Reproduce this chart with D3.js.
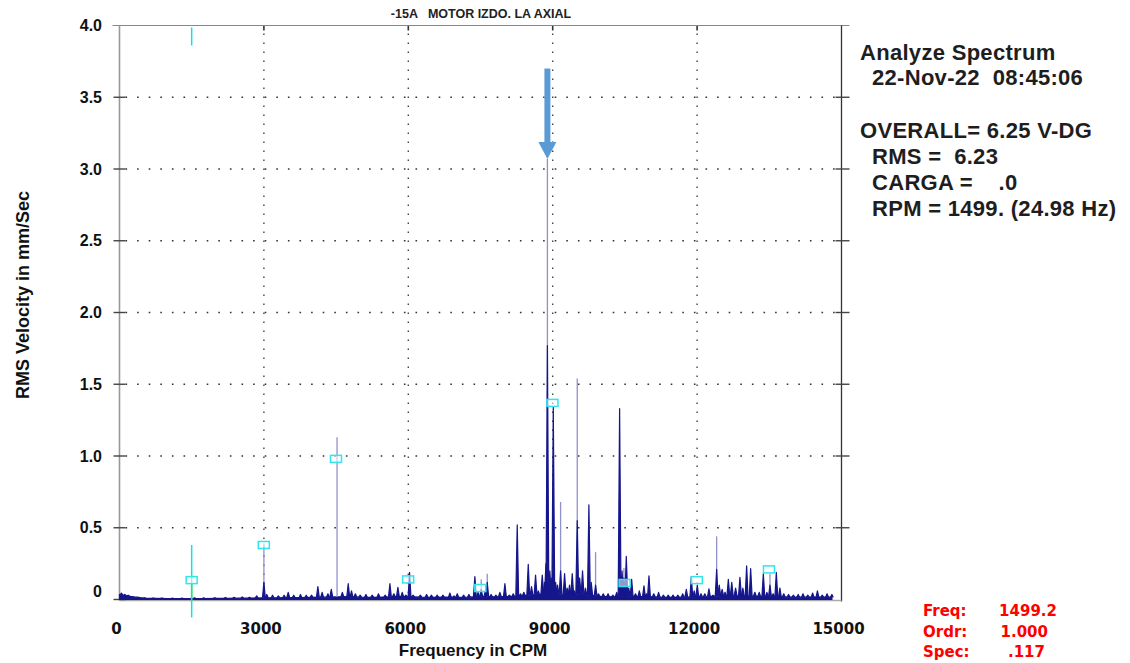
<!DOCTYPE html>
<html lang="en">
<head>
<meta charset="utf-8">
<title>Analyze Spectrum</title>
<script src="https://d3js.org/d3.v7.min.js"></script>
<style>
  body { margin: 0; background: #fff; }
  svg { display: block; font-family: "Liberation Sans", Arial, sans-serif; }
  text { white-space: pre; }
  .lbl { font-weight: bold; font-size: 16px; fill: #111; }
  .xlbl { font-family: "DejaVu Sans", sans-serif; font-weight: bold; font-size: 15px; fill: #111; }
  .title { font-weight: bold; font-size: 12.5px; fill: #222; }
  .info { font-size: 22px; font-weight: bold; fill: #1e1e1e; letter-spacing: 0.3px; }
  .cur { font-family: "DejaVu Sans", sans-serif; font-weight: bold; font-size: 15px; fill: #f00; }
</style>
</head>
<body>
<script>
// ---- data ----
var yTicks = [0, 0.5, 1.0, 1.5, 2.0, 2.5, 3.0, 3.5, 4.0];
var xTicks = [0, 3000, 6000, 9000, 12000, 15000];

// noise floor [CPM, mm/s]
var floorData = [
  [0,.035],[250,.02],[500,.01],[750,.008],[1000,.007],[1250,.007],[1500,.007],[1750,.007],
  [2000,.008],[2250,.008],[2500,.009],[2750,.01],[3000,.012],[3250,.012],[3500,.014],[3750,.013],
  [4000,.015],[4250,.016],[4500,.018],[4750,.02],[5000,.016],[5250,.015],[5500,.017],[5750,.02],
  [6000,.02],[6250,.016],[6500,.015],[6750,.016],[7000,.015],[7250,.016],[7500,.02],[7750,.018],
  [8000,.02],[8250,.022],[8500,.03],[8750,.035],[9000,.04],[9250,.035],[9500,.035],[9750,.03],
  [10000,.022],[10250,.018],[10500,.025],[10750,.02],[11000,.02],[11250,.016],[11500,.015],[11750,.016],
  [12000,.018],[12250,.02],[12500,.025],[12750,.025],[13000,.025],[13250,.022],[13500,.02],[13750,.018],
  [14000,.016],[14250,.016],[14500,.017],[14800,.016]
];

// spectral lines (dark part) [CPM, mm/s]
var peaks = [
  [40,.045],[110,.035],[180,.03],[260,.02],[380,.015],[520,.012],[700,.01],[880,.01],[1100,.01],
  [1300,.01],[1560,.012],[1750,.012],[1980,.012],[2200,.013],[2380,.015],[2550,.018],[2700,.015],
  [2850,.025],[3000,.12],[3060,.035],[3180,.03],[3300,.025],[3420,.03],[3505,.05],[3620,.03],
  [3760,.035],[3880,.03],[3990,.03],[4121,.09],[4210,.05],[4330,.04],[4400,.07],[4630,.05],
  [4752,.11],[4820,.06],[4900,.04],[5000,.03],[5120,.035],[5250,.03],[5380,.04],[5520,.03],
  [5618,.11],[5700,.04],[5784,.085],[5874,.05],[5950,.03],[6026,.19],[6100,.03],[6250,.03],
  [6380,.035],[6480,.03],[6600,.03],[6720,.03],[6864,.045],[6950,.025],[7017,.04],[7150,.03],
  [7259,.035],[7383,.16],[7450,.05],[7515,.07],[7600,.06],[7640,.12],[7720,.035],[7820,.03],
  [7903,.05],[8007,.11],[8100,.03],[8180,.04],[8263,.52],[8330,.04],[8400,.05],[8492,.245],
  [8560,.09],[8644,.17],[8700,.06],[8783,.17],[8830,.12],[8860,.25],[8890,1.77],[8940,.2],
  [8970,.15],[9012,1.345],[9060,.12],[9100,.1],[9164,.2],[9247,.18],[9300,.08],[9350,.1],
  [9406,.18],[9450,.06],[9510,.55],[9560,.15],[9620,.2],[9680,.08],[9752,.66],[9800,.12],
  [9891,.1],[9950,.04],[10050,.04],[10150,.04],[10250,.03],[10330,.05],[10390,1.33],[10440,.2],
  [10480,.15],[10529,.3],[10580,.08],[10640,.14],[10720,.04],[10800,.06],[10896,.095],[10950,.04],
  [11000,.165],[11100,.04],[11200,.05],[11300,.03],[11400,.03],[11500,.03],[11600,.03],[11700,.04],
  [11776,.07],[11880,.16],[11940,.06],[12004,.1],[12080,.04],[12160,.04],[12246,.075],[12330,.03],
  [12406,.21],[12460,.1],[12520,.07],[12580,.05],[12649,.14],[12720,.12],[12800,.08],[12890,.155],
  [12950,.08],[13029,.235],[13113,.215],[13200,.05],[13290,.05],[13376,.18],[13450,.05],[13514,.1],
  [13580,.04],[13646,.19],[13720,.08],[13800,.04],[13900,.035],[14000,.03],[14100,.035],[14200,.04],
  [14300,.03],[14400,.045],[14500,.06],[14600,.03],[14700,.04],[14800,.035]
];

// thin tips that show up lighter [CPM, mm/s]
var thinPeaks = [
  [3000,.39],[4520,1.13],[7515,.14],[7640,.18],[8890,3.07],[9164,.68],[9510,1.54],
  [9891,.33],[10480,.22],[12406,.44],[13514,.18]
];

// harmonic markers (orders 1..9) [CPM, mm/s]
var markers = [
  [1499,.135],[2998,.38],[4498,.98],[5997,.14],[7496,.08],[8995,1.37],[10494,.115],[11994,.135],[13493,.21]
];

var cursorCpm = 1499.2;
var arrowPeak = [8890, 3.07, 3.7];

var titleText = "-15A   MOTOR IZDO. LA AXIAL";
var infoLines = [
  ["Analyze Spectrum", 0],
  ["22-Nov-22  08:45:06", 1],
  ["", 0],
  ["OVERALL= 6.25 V-DG", 0],
  ["RMS =  6.23", 1],
  ["CARGA =    .0", 1],
  ["RPM = 1499. (24.98 Hz)", 1]
];
var cursorLabels = ["Freq:", "Ordr:", "Spec:"];
var cursorValues = ["1499.2", "1.000", ".117"];

// ---- drawing ----
var width = 1130, height = 663;
var svg = d3.select("body").append("svg")
  .attr("width", width).attr("height", height);
svg.append("rect").attr("width", width).attr("height", height).attr("fill", "#fff");

var x = d3.scaleLinear().domain([0, 15000]).range([119.5, 841.5]);
var y = d3.scaleLinear().domain([0, 4]).range([599.5, 25.5]);
var floorAt = d3.scaleLinear().domain(floorData.map(d => d[0])).range(floorData.map(d => d[1]));

// dotted grid
svg.append("g").selectAll("line")
  .data(yTicks.filter(d => d > 0 && d < 4))
  .join("line")
  .attr("x1", x(0) + 6).attr("x2", x(15000) - 4)
  .attr("y1", d => y(d)).attr("y2", d => y(d))
  .attr("stroke", "#333").attr("stroke-width", 1.6)
  .attr("stroke-dasharray", "1.6,10");

svg.append("g").selectAll("line")
  .data(xTicks.filter(d => d > 0 && d < 15000))
  .join("line")
  .attr("x1", d => x(d)).attr("x2", d => x(d))
  .attr("y1", y(4) + 8).attr("y2", y(0))
  .attr("stroke", "#444").attr("stroke-width", 1.4)
  .attr("stroke-dasharray", "1.5,7.5");

svg.append("g").selectAll("line")
  .data(xTicks.filter(d => d > 0 && d < 15000))
  .join("line")
  .attr("x1", d => x(d)).attr("x2", d => x(d))
  .attr("y1", y(4)).attr("y2", y(4) + 5)
  .attr("stroke", "#333").attr("stroke-width", 1.6);

// frame
svg.append("line").attr("x1", x(0) - 7).attr("x2", x(15000) + 8)
  .attr("y1", y(4)).attr("y2", y(4)).attr("stroke", "#888").attr("stroke-width", 1.2);
svg.append("line").attr("x1", x(0)).attr("x2", x(0))
  .attr("y1", y(4)).attr("y2", y(0) + 1).attr("stroke", "#999").attr("stroke-width", 1.6);
svg.append("line").attr("x1", x(15000)).attr("x2", x(15000))
  .attr("y1", y(4)).attr("y2", y(0) + 2).attr("stroke", "#333").attr("stroke-width", 1.3);
svg.append("line").attr("x1", x(0)).attr("x2", x(15000))
  .attr("y1", y(0) + 1).attr("y2", y(0) + 1).attr("stroke", "#aaa").attr("stroke-width", 1.6);

// y ticks on both sides
svg.append("g").selectAll("line")
  .data(yTicks.filter(d => d < 4))
  .join("line")
  .attr("x1", x(0) - 6).attr("x2", x(0) + 6)
  .attr("y1", d => y(d)).attr("y2", d => y(d))
  .attr("stroke", "#444").attr("stroke-width", 1.4);
svg.append("g").selectAll("line")
  .data(yTicks.filter(d => d > 0 && d < 4))
  .join("line")
  .attr("x1", x(15000) - 6).attr("x2", x(15000) + 8)
  .attr("y1", d => y(d)).attr("y2", d => y(d))
  .attr("stroke", "#444").attr("stroke-width", 1.4);

// tick labels
svg.append("g").selectAll("text")
  .data(yTicks)
  .join("text")
  .attr("class", "lbl")
  .attr("x", 102)
  .attr("y", d => d === 0 ? y(d) - 8 : y(d))
  .attr("dy", "0.35em")
  .attr("text-anchor", "end")
  .text(d => d === 0 ? "0" : d3.format(".1f")(d));

svg.append("g").selectAll("text")
  .data(xTicks)
  .join("text")
  .attr("class", "xlbl")
  .attr("x", d => x(d) - 3)
  .attr("y", 634)
  .attr("text-anchor", "middle")
  .text(d => d);

// axis titles
svg.append("text").attr("class", "lbl")
  .attr("transform", "translate(29,295) rotate(-90)")
  .attr("text-anchor", "middle")
  .style("font-size", "18px")
  .text("RMS Velocity in mm/Sec");
svg.append("text").attr("class", "lbl")
  .attr("x", 473).attr("y", 656)
  .attr("text-anchor", "middle")
  .style("font-size", "17px")
  .text("Frequency in CPM");

svg.append("text").attr("class", "title")
  .attr("x", 481).attr("y", 18)
  .attr("text-anchor", "middle")
  .text(titleText);

// spectrum
var navy = "#16168c";
svg.append("path")
  .datum(floorData)
  .attr("d", d3.area().x(d => x(d[0])).y0(y(0)).y1(d => y(d[1])))
  .attr("fill", navy).attr("stroke", navy).attr("stroke-width", 1.2);

svg.append("g").selectAll("line")
  .data(thinPeaks)
  .join("line")
  .attr("x1", d => x(d[0])).attr("x2", d => x(d[0]))
  .attr("y1", d => y(floorAt(d[0]))).attr("y2", d => y(d[1]))
  .attr("stroke", "#9090cc").attr("stroke-width", 1.3);

svg.append("g").selectAll("path")
  .data(peaks)
  .join("path")
  .attr("d", d => {
    var px = x(d[0]), b = y(floorAt(d[0])), t = y(d[1]);
    return "M" + (px - 1.4) + "," + b + "L" + px + "," + t + "L" + (px + 1.4) + "," + b;
  })
  .attr("fill", navy).attr("stroke", navy).attr("stroke-width", 1.2)
  .attr("stroke-linejoin", "round");

// cursor
var cx = x(cursorCpm);
svg.append("line").attr("x1", cx).attr("x2", cx)
  .attr("y1", y(4) + 2).attr("y2", y(4) + 20)
  .attr("stroke", "#10e0e8").attr("stroke-width", 1.5);
svg.append("line").attr("x1", cx).attr("x2", cx)
  .attr("y1", y(0.38)).attr("y2", y(0) + 18)
  .attr("stroke", "#10e0e8").attr("stroke-width", 1.5);
svg.append("line").attr("x1", cx).attr("x2", cx)
  .attr("y1", y(markers[0][1]) + 3).attr("y2", y(0))
  .attr("stroke", "#40e040").attr("stroke-width", 1.5);

// harmonic markers
svg.append("g").selectAll("rect")
  .data(markers)
  .join("rect")
  .attr("x", d => x(d[0]) - 5.5).attr("y", d => y(d[1]) - 3.5)
  .attr("width", 11).attr("height", 7)
  .attr("fill", "#fff").attr("fill-opacity", 0.55)
  .attr("stroke", "#30e6ee").attr("stroke-width", 1.5);

// arrow
var ax = x(arrowPeak[0]);
var tip = y(arrowPeak[1]);
svg.append("rect")
  .attr("x", ax - 3).attr("y", y(arrowPeak[2]))
  .attr("width", 6).attr("height", tip - 15 - y(arrowPeak[2]))
  .attr("fill", "#5b9bd5");
svg.append("path")
  .attr("d", "M" + (ax - 9) + "," + (tip - 17) + "L" + (ax + 9) + "," + (tip - 17) + "L" + ax + "," + tip + "Z")
  .attr("fill", "#5b9bd5");

// info panel
svg.append("g").selectAll("text")
  .data(infoLines)
  .join("text")
  .attr("class", "info")
  .attr("x", d => d[1] ? 872 : 860)
  .attr("y", (d, i) => [60, 85, 0, 138, 164, 190, 216][i])
  .text(d => d[0]);

// cursor readout
svg.append("g").selectAll("text")
  .data(cursorLabels)
  .join("text")
  .attr("class", "cur")
  .attr("x", 923)
  .attr("y", (d, i) => 616 + i * 20.5)
  .text(d => d);
svg.append("g").selectAll("text")
  .data(cursorValues)
  .join("text")
  .attr("class", "cur")
  .attr("x", (d, i) => [1057, 1048, 1045][i])
  .attr("y", (d, i) => 616 + i * 20.5)
  .attr("text-anchor", "end")
  .text(d => d);
</script>
</body>
</html>
